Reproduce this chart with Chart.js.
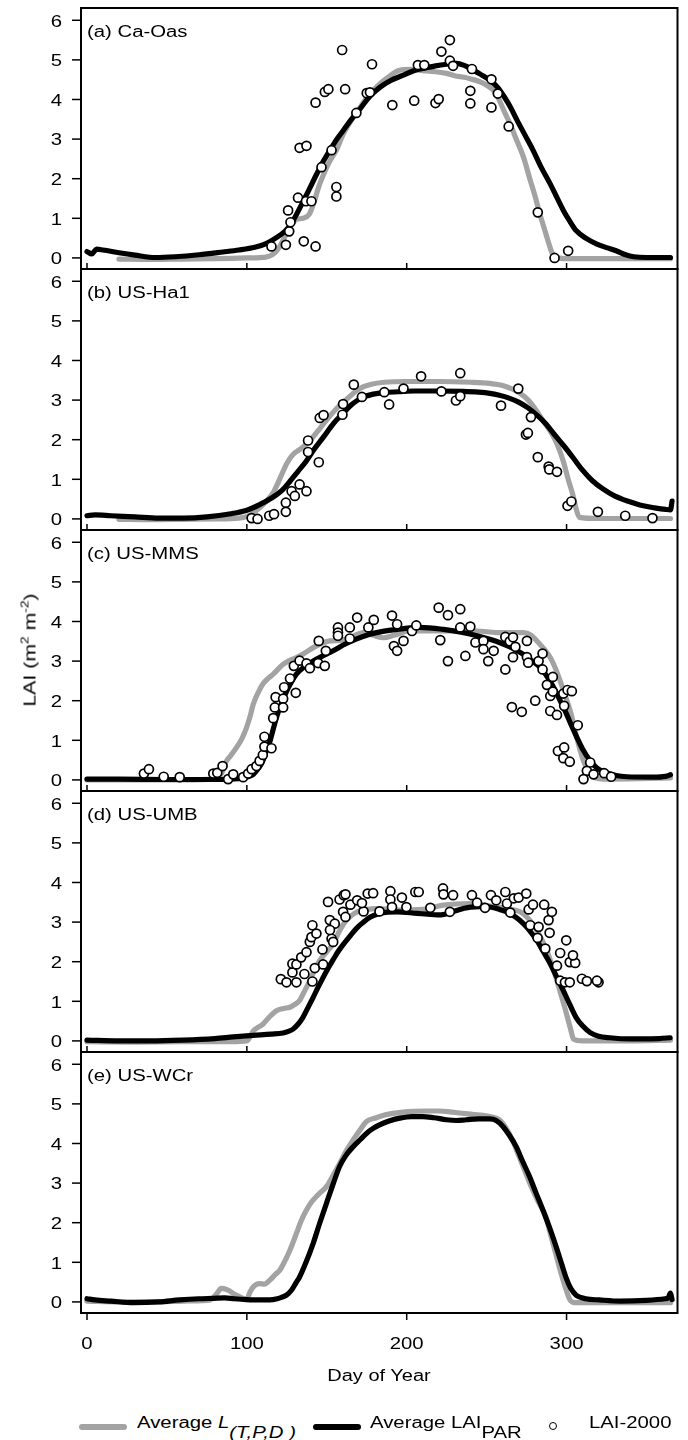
<!DOCTYPE html>
<html>
<head>
<meta charset="utf-8">
<title>Seasonal LAI at five flux sites</title>
<script src="https://cdn.jsdelivr.net/npm/chart.js@4.4.1/dist/chart.umd.min.js"></script>
<style>
  html, body { margin: 0; padding: 0; background: #fff; }
  body { position: relative; width: 688px; height: 1440px; overflow: hidden;
         font-family: "Liberation Sans", Arial, Helvetica, sans-serif; color: #000; }
  canvas { position: absolute; left: 0; }
  .lbl { position: absolute; white-space: nowrap; font-size: 16px; line-height: 16px;
         transform-origin: 0 50%; transform: scaleX(1.27); }
  .sub { position: relative; top: 10px; }
  .swatch { position: absolute; height: 6px; border-radius: 3px; }
  .dot { position: absolute; width: 6px; height: 6px; border: 1.6px solid #000;
         border-radius: 50%; background: #fff; }
  #ylab sup { font-size: 11px; line-height: 0; vertical-align: 7px; }
</style>
</head>
<body>
<div id="plots"></div>

<div class="lbl" id="ylab" style="left:30px;top:650px;font-size:17px;line-height:17px;transform-origin:50% 50%;transform:translate(-50%,-50%) rotate(-90deg) scaleX(1.25);">LAI (m<sup>2</sup> m<sup>-2</sup>)</div>
<div class="lbl" id="xlab" style="left:379px;top:1368px;transform-origin:50% 50%;transform:translateX(-50%) scaleX(1.25);">Day of Year</div>

<div class="swatch" style="left:79px;top:1424px;width:48px;background:#a3a3a3;"></div>
<div class="lbl" style="left:137px;top:1415px;">Average <i>L</i><span class="sub"><i>(T,P,D )</i></span></div>
<div class="swatch" style="left:313px;top:1424px;width:48px;background:#000;"></div>
<div class="lbl" style="left:370px;top:1415px;">Average LAI<span class="sub">PAR</span></div>
<div class="dot" style="left:549px;top:1422px;"></div>
<div class="lbl" style="left:589px;top:1415px;">LAI-2000</div>

<script>
// ---- axis ticks and panel titles ----
const xTickValues = [0, 100, 200, 300];
const yTickValues = [0, 1, 2, 3, 4, 5, 6];
const panelNames = ['(a) Ca-Oas', '(b) US-Ha1', '(c) US-MMS', '(d) US-UMB', '(e) US-WCr'];

// ---- (a) Ca-Oas: [day of year, LAI] ----
const caOasPar = [[0,0.16],[3,0.1],[6,0.22],[10,0.2],[20,0.13],[30,0.07],[43,0.01],[55,0.03],[70,0.08],[85,0.15],
  [95,0.2],[105,0.27],[112,0.36],[118,0.5],[124,0.68],[128,0.88],[133,1.25],[138,1.65],[142,1.98],[147,2.38],
  [152,2.72],[156,2.98],[160,3.2],[165,3.48],[170,3.72],[177,4.08],[183,4.3],[190,4.48],[197,4.6],[204,4.72],
  [211,4.79],[218,4.85],[225,4.89],[231,4.91],[236,4.86],[240,4.78],[246,4.64],[252,4.49],[257,4.3],[261,4.07],
  [265,3.8],[269,3.48],[274,3.1],[279,2.72],[284,2.3],[290,1.85],[294,1.52],[298,1.2],[302,0.93],[306,0.69],
  [312,0.5],[319,0.35],[325,0.26],[331,0.18],[337,0.08],[342,0.03],[350,0.01],[365,0.01]];
const caOasTpd = [[20,-0.03],[40,-0.04],[60,-0.03],[80,-0.02],[100,0.0],[112,0.02],[116,0.08],[120,0.25],[124,0.55],
  [128,0.85],[131,0.97],[135,1.0],[139,1.1],[142,1.4],[145,1.8],[149,2.2],[152,2.45],[156,2.72],[160,3.1],[165,3.45],
  [170,3.75],[176,4.1],[182,4.35],[188,4.55],[195,4.73],[202,4.76],[210,4.73],[218,4.7],[225,4.66],[230,4.6],
  [236,4.56],[240,4.52],[245,4.46],[250,4.36],[255,4.2],[258,3.98],[261,3.7],[265,3.35],[269,2.95],[273,2.55],
  [277,2.0],[280,1.6],[283,1.15],[286,0.75],[289,0.35],[291,0.12],[294,0.01],[300,-0.02],[330,-0.02],[365,-0.02]];
const caOasObs = [[115.4,0.29],[124.4,0.33],[126.5,0.67],[127.3,0.9],[125.8,1.2],[132,1.52],[137,1.43],[140.4,1.43],
  [135.6,0.42],[143,0.29],[133,2.78],[137.3,2.83],[146.7,2.29],[153,2.72],[143,3.92],[148.8,4.19],[151,4.26],
  [156,1.79],[156,1.55],[159.6,5.25],[161.5,4.26],[168.5,3.66],[175,4.16],[177,4.18],[178.3,4.89],[191,3.86],
  [204.7,3.97],[207,4.87],[211,4.87],[218,3.91],[220,4.01],[221.7,5.21],[227,5.5],[227,4.98],[229,4.85],
  [240.8,4.77],[239.8,4.22],[239.8,3.9],[253,4.51],[257,4.15],[253,3.8],[263.8,3.32],[282,1.15],[292.5,0.0],[301,0.18]];

// ---- (b) US-Ha1 ----
const usHa1Par = [[0,0.08],[5,0.1],[15,0.08],[30,0.05],[45,0.02],[60,0.02],[75,0.05],[90,0.13],[100,0.22],[108,0.36],
  [116,0.54],[122,0.72],[127,0.95],[132,1.2],[137,1.45],[142,1.75],[148,2.07],[154,2.4],[160,2.66],[166,2.9],
  [172,3.06],[179,3.15],[186,3.19],[195,3.21],[205,3.23],[220,3.23],[235,3.22],[245,3.2],[252,3.17],[258,3.12],
  [264,3.05],[270,2.95],[276,2.8],[282,2.6],[287,2.4],[292,2.15],[298,1.86],[304,1.55],[310,1.23],[316,0.97],
  [323,0.75],[330,0.58],[336,0.48],[342,0.4],[348,0.33],[355,0.28],[362,0.24],[365,0.23],[366,0.45]];
const usHa1Tpd = [[20,-0.01],[40,-0.02],[60,-0.01],[80,0.0],[95,0.02],[102,0.1],[108,0.28],[113,0.48],[117,0.7],
  [121,1.05],[125,1.4],[129,1.63],[133,1.75],[137,1.88],[141,2.05],[146,2.3],[151,2.55],[156,2.78],[161,2.97],
  [166,3.15],[171,3.3],[178,3.4],[186,3.45],[200,3.47],[220,3.47],[240,3.45],[252,3.42],[260,3.37],[266,3.28],
  [271,3.17],[276,3.0],[280,2.8],[285,2.5],[290,2.2],[294,1.9],[298,1.45],[301,1.0],[304,0.6],[306,0.25],
  [308,0.04],[320,0.01],[340,0.01],[365,0.01]];
const usHa1Obs = [[103,0.02],[106.7,0.0],[114,0.08],[117,0.12],[124.4,0.18],[124.4,0.41],[128,0.7],[130,0.58],
  [133,0.87],[137.3,0.7],[138.3,1.98],[138.3,1.69],[145,1.43],[145.6,2.55],[148,2.62],[159.8,2.63],[160.2,2.9],
  [166.9,3.39],[172,3.08],[186,3.2],[189,2.89],[198,3.29],[209,3.6],[221.7,3.22],[230.8,2.99],[233.5,3.1],
  [233.5,3.68],[259,2.86],[269.8,3.29],[277.7,2.57],[274.6,2.13],[275.8,2.17],[282,1.56],[288.8,1.32],[289.2,1.25],
  [294,1.19],[300.6,0.33],[303,0.44],[319.6,0.18],[336.7,0.08],[353.75,0.02]];

// ---- (c) US-MMS ----
const usMmsPar = [[0,0.02],[20,0.02],[50,0.01],[80,0.01],[95,0.03],[100,0.07],[104,0.14],[107,0.28],[110,0.48],
  [112,0.72],[114.5,0.98],[116.5,1.28],[118.5,1.57],[121.5,1.92],[125,2.25],[128,2.48],[131,2.67],[136,2.86],
  [141.5,3.0],[148,3.14],[154,3.26],[160,3.4],[168,3.55],[177,3.68],[185,3.75],[194,3.8],[208,3.85],[223,3.8],
  [234,3.73],[244,3.64],[252,3.55],[258,3.47],[266,3.33],[273,3.17],[278,3.02],[283.5,2.84],[288,2.6],[292,2.33],
  [296,2.0],[300,1.66],[303,1.38],[306.5,1.07],[310,0.78],[314.8,0.48],[319,0.3],[325,0.18],[331,0.11],
  [337.7,0.08],[354,0.07],[362,0.09],[365,0.13]];
const usMmsTpd = [[0,0.0],[30,0.0],[60,0.0],[80,0.02],[84,0.15],[87.3,0.48],[90,0.62],[93.6,0.82],[97,1.05],
  [99.8,1.32],[102,1.6],[104,1.91],[107,2.2],[110,2.42],[113,2.55],[116.5,2.67],[122.7,2.92],[127,3.02],[131,3.09],
  [136,3.2],[141.5,3.34],[147,3.45],[152,3.51],[160,3.53],[166,3.62],[173,3.72],[179,3.65],[185.6,3.59],[192,3.65],
  [202,3.76],[223,3.76],[244,3.76],[256,3.72],[273,3.72],[278,3.65],[281.4,3.51],[286,3.3],[289.8,3.09],[293,2.82],
  [296,2.5],[299,2.15],[302.3,1.74],[304.5,1.4],[306.4,1.07],[308.5,0.75],[310.6,0.48],[312.7,0.28],[314.8,0.14],
  [318,0.05],[323,0.02],[345,0.03],[365,0.05]];
const usMmsObs = [[35.6,0.16],[38.75,0.27],[48,0.08],[58,0.07],[79,0.16],[81.5,0.18],[84.8,0.35],[88.3,0.02],
  [91.5,0.14],[97.7,0.07],[100.8,0.16],[103,0.27],[106,0.35],[108,0.48],[110,0.63],[111,0.84],[115.4,0.8],[111,1.09],
  [116.5,1.56],[117.5,1.83],[118,2.09],[122.7,2.05],[122.7,1.83],[123.3,2.34],[127,2.56],[129.4,2.88],[130.6,2.2],
  [133,3.01],[137.3,2.94],[139.4,2.82],[144.6,2.95],[148.75,2.88],[145,3.51],[149.4,3.26],[157,3.85],[157,3.72],
  [157,3.64],[164.4,3.85],[164.4,3.57],[169,4.1],[176,3.85],[179.4,4.04],[190.8,4.15],[194,3.93],[192,3.38],
  [194,3.26],[198,3.51],[203.3,3.76],[206,3.9],[220,4.35],[225.8,4.16],[233.5,4.31],[221,3.53],[225.8,3.0],
  [236.7,3.13],[233.5,3.85],[239.8,3.87],[243,3.47],[248,3.51],[248,3.3],[251,3.0],[254.4,3.26],[261.7,3.61],
  [261.7,2.79],[264.5,3.5],[266.5,3.6],[266.5,3.1],[268,3.36],[275.2,3.51],[275.2,3.1],[276,2.96],[280.4,2.0],
  [265.8,1.84],[272,1.72],[282.5,3.0],[285,3.19],[285,2.79],[287.7,2.4],[289.8,2.12],[291.4,2.6],[291.4,2.23],
  [289.8,1.74],[294,1.64],[298,2.18],[300.6,2.27],[303.3,2.24],[298.5,1.87],[307,1.38],[294.6,0.73],[298.5,0.82],
  [298,0.55],[302,0.46],[314.8,0.44],[312.7,0.23],[310.6,0.02],[316.9,0.14],[323.5,0.17],[327.9,0.08]];

// ---- (d) US-UMB ----
const usUmbPar = [[0,0.02],[20,0.0],[40,0.0],[60,0.02],[80,0.06],[91.5,0.1],[104,0.14],[115,0.17],[122.7,0.2],
  [126,0.24],[129,0.3],[132,0.42],[135,0.59],[138,0.82],[141.5,1.1],[144.5,1.35],[147.7,1.6],[151,1.85],[154,2.05],
  [157,2.25],[160.6,2.45],[164,2.62],[167,2.77],[170,2.9],[173,3.0],[177,3.12],[181.5,3.2],[188,3.25],[194,3.26],
  [206.5,3.22],[213,3.2],[219,3.18],[224,3.2],[230,3.28],[236,3.35],[240,3.38],[246,3.39],[252,3.38],[258,3.32],
  [262.7,3.26],[268,3.13],[273,2.96],[277,2.78],[281.4,2.54],[285.5,2.25],[289.8,1.95],[294,1.6],[298,1.27],
  [302,0.92],[306,0.59],[310,0.38],[314.8,0.21],[320,0.12],[327,0.08],[340,0.05],[348,0.05],[358,0.06],[364.8,0.08]];
const usUmbTpd = [[0,-0.02],[30,-0.03],[60,-0.02],[90,-0.02],[100,0.0],[104,0.25],[110,0.42],[114,0.6],[118.5,0.76],
  [123,0.82],[127,0.85],[130,0.92],[133,1.02],[136,1.25],[139.4,1.52],[142.5,1.8],[145.6,2.03],[150,2.25],[154,2.45],
  [157,2.7],[160.6,2.96],[165,3.15],[169,3.26],[175,3.32],[181.5,3.34],[195,3.3],[210,3.32],[223,3.43],[240,3.47],
  [256,3.38],[265,3.32],[271,3.26],[277,3.05],[282,2.75],[287.7,2.28],[291,1.9],[294,1.52],[297,1.1],[300,0.68],
  [302.5,0.3],[304.4,0.04],[310,0.0],[340,0.0],[365,0.02]];
const usUmbObs = [[121.25,1.56],[124.8,1.48],[128.5,1.73],[131,1.48],[128.5,1.95],[131,1.93],[134,2.11],[136,1.69],
  [137.3,2.24],[139.4,2.5],[140.4,2.62],[141,2.92],[141,1.5],[142.5,1.84],[143.5,2.71],[147.3,2.31],[147.7,1.93],
  [150.8,3.51],[151.9,3.05],[153,2.58],[154,2.5],[155,2.96],[152,2.8],[158,3.57],[160.2,3.26],[160.6,3.68],
  [161.7,3.7],[161.7,3.13],[164.8,3.44],[169,3.55],[173,3.27],[172,3.48],[175.6,3.72],[179,3.73],[183,3.27],
  [189.8,3.78],[189.8,3.57],[190.8,3.38],[197,3.62],[199.8,3.38],[205.4,3.76],[207.5,3.76],[214.8,3.36],[222.7,3.85],
  [223,3.7],[229,3.68],[227,3.26],[240.8,3.68],[244,3.49],[249,3.36],[252.7,3.68],[256,3.55],[261.7,3.76],
  [262.7,3.47],[264.8,3.24],[267,3.6],[270,3.62],[274.8,3.72],[276.3,3.32],[279,3.44],[277.3,2.92],[282.5,2.88],
  [286,3.44],[288.75,3.05],[290.8,3.26],[289.4,2.73],[281.9,2.6],[286.7,2.33],[299.8,2.54],[296,2.22],[294,1.9],
  [302,1.99],[305.4,1.97],[304,2.16],[296,1.52],[299,1.48],[302,1.48],[309.6,1.57],[312.7,1.51],[320,1.48],[319,1.52]];

// ---- (e) US-WCr (no LAI-2000 samples) ----
const usWcrPar = [[0,0.08],[5,0.05],[15,0.02],[29,-0.02],[45,0.0],[58,0.05],[70,0.08],[79,0.09],[86,0.1],[92,0.08],
  [99.8,0.06],[108,0.05],[114.4,0.05],[119,0.08],[122,0.12],[124.8,0.17],[128,0.3],[131,0.5],[133,0.63],[137,1.0],
  [141.5,1.48],[145.5,1.98],[149.8,2.49],[154,2.98],[158,3.42],[162,3.7],[166.5,3.92],[171,4.1],[175,4.26],
  [179,4.38],[183,4.47],[189,4.57],[195.6,4.64],[203,4.68],[210,4.68],[217,4.65],[224.8,4.6],[231,4.58],
  [237.3,4.6],[245,4.62],[251.9,4.62],[256,4.58],[260.2,4.43],[264,4.22],[268.5,3.92],[272.5,3.55],[276.9,3.16],
  [281,2.74],[285.2,2.32],[289.5,1.86],[293.5,1.39],[297,0.95],[299.8,0.6],[302.5,0.35],[306,0.17],[312,0.08],
  [320.6,0.05],[334,0.02],[350,0.04],[361.7,0.08],[363.5,0.1],[365,0.22],[366,0.06]];
const usWcrTpd = [[0,0.02],[20,0.0],[40,0.0],[60,0.02],[72,0.03],[77,0.05],[81,0.2],[84,0.34],[87,0.32],[89,0.28],
  [92,0.2],[95.6,0.13],[99.8,0.06],[102,0.25],[104,0.38],[108,0.46],[111,0.45],[114.4,0.55],[118,0.7],[120.6,0.8],
  [124,1.05],[127,1.31],[131,1.73],[134,2.05],[137.3,2.32],[140,2.5],[143.5,2.66],[146.5,2.78],[149.8,2.91],
  [154,3.2],[158,3.49],[162,3.8],[166.5,4.09],[171,4.35],[175,4.56],[181,4.65],[187.3,4.73],[195,4.78],[204,4.81],
  [212,4.82],[220.6,4.82],[227,4.8],[233,4.77],[240,4.74],[245.6,4.72],[252,4.68],[258,4.6],[262,4.4],[266,4.1],
  [270,3.7],[274,3.3],[278,2.9],[282,2.55],[287,2.15],[290,1.7],[293,1.25],[296,0.8],[299,0.4],[302,0.06],
  [305,-0.02],[330,-0.02],[365,-0.02]];
const usWcrObs = [];

// ---- layout constants ----
const PANEL_TOP = 8, PANEL_H = 261, PLOT_LEFT = 81, PLOT_RIGHT = 677.5, MARGIN = 14, EXTRA_BOTTOM = 42;
const TEXT_STRETCH = 1.27;
const TEXT_FONT = '16px "Liberation Sans", Arial, sans-serif';
const GREY = '#a3a3a3';

const toXY = pts => pts.map(([x, y]) => ({ x, y }));

function stretchedText(ctx, text, x, y, align) {
  ctx.save();
  ctx.translate(x, y);
  ctx.scale(TEXT_STRETCH, 1);
  ctx.textAlign = align;
  ctx.textBaseline = 'alphabetic';
  ctx.fillText(text, 0, 0);
  ctx.restore();
}

function segment(ctx, x1, y1, x2, y2) {
  ctx.beginPath(); ctx.moveTo(x1, y1); ctx.lineTo(x2, y2); ctx.stroke();
}

// Boxed frame, tick marks, tick labels and panel title for each panel
const panelDecor = {
  id: 'panelDecor',
  afterDatasetsDraw(chart, args, opts) {
    const { ctx, chartArea: a, scales: { x, y } } = chart;
    ctx.save();
    ctx.strokeStyle = '#000';
    ctx.fillStyle = '#000';
    ctx.font = TEXT_FONT;
    ctx.lineWidth = 2;
    ctx.strokeRect(a.left, a.top, a.right - a.left, a.bottom - a.top);
    ctx.lineWidth = 1.5;
    yTickValues.forEach(v => {
      const py = y.getPixelForValue(v);
      segment(ctx, a.left - 9, py, a.left, py);
      stretchedText(ctx, String(v), a.left - 19, py + 6.3, 'right');
    });
    xTickValues.forEach(v => {
      const px = x.getPixelForValue(v);
      if (opts.outerTicks) {
        segment(ctx, px, a.bottom, px, a.bottom + 7);
        stretchedText(ctx, String(v), px, a.bottom + 35.5, 'center');
      } else {
        segment(ctx, px, a.bottom, px, a.bottom - 6);
      }
    });
    stretchedText(ctx, opts.title, a.left + 6, a.top + 28.5, 'left');
    ctx.restore();
  }
};

const panels = [
  { title: panelNames[0], par: caOasPar, tpd: caOasTpd, obs: caOasObs },
  { title: panelNames[1], par: usHa1Par, tpd: usHa1Tpd, obs: usHa1Obs },
  { title: panelNames[2], par: usMmsPar, tpd: usMmsTpd, obs: usMmsObs },
  { title: panelNames[3], par: usUmbPar, tpd: usUmbTpd, obs: usUmbObs },
  { title: panelNames[4], par: usWcrPar, tpd: usWcrTpd, obs: usWcrObs }
];

const host = document.getElementById('plots');
panels.forEach((p, i) => {
  const last = i === panels.length - 1;
  const extra = last ? EXTRA_BOTTOM : 0;
  const canvas = document.createElement('canvas');
  canvas.width = 688;
  canvas.height = PANEL_H + 2 * MARGIN + extra;
  canvas.style.top = (PANEL_TOP + i * PANEL_H - MARGIN) + 'px';
  host.appendChild(canvas);

  new Chart(canvas, {
    type: 'line',
    data: {
      datasets: [
        { label: 'LAI-2000', data: toXY(p.obs), showLine: false,
          pointRadius: 4.5, pointBorderWidth: 1.7, pointBackgroundColor: '#fff',
          pointBorderColor: '#000', pointStyle: 'circle', clip: 6 },
        { label: 'Average LAI PAR', data: toXY(p.par), borderColor: '#000', borderWidth: 5.2,
          pointRadius: 0, cubicInterpolationMode: 'monotone',
          borderCapStyle: 'round', borderJoinStyle: 'round', fill: false },
        { label: 'Average L(T,P,D)', data: toXY(p.tpd), borderColor: GREY, borderWidth: 5.2,
          pointRadius: 0, cubicInterpolationMode: 'monotone',
          borderCapStyle: 'round', borderJoinStyle: 'round', fill: false }
      ]
    },
    options: {
      responsive: false,
      maintainAspectRatio: false,
      animation: false,
      devicePixelRatio: 1,
      layout: { padding: { left: PLOT_LEFT, right: 688 - PLOT_RIGHT, top: MARGIN, bottom: MARGIN + extra } },
      scales: {
        x: { type: 'linear', min: -3.75, max: 369.4, display: false },
        y: { type: 'linear', min: -0.28, max: 6.31, display: false }
      },
      plugins: {
        legend: { display: false },
        tooltip: { enabled: false },
        panelDecor: { title: p.title, outerTicks: last }
      }
    },
    plugins: [panelDecor]
  });
});
</script>
</body>
</html>
